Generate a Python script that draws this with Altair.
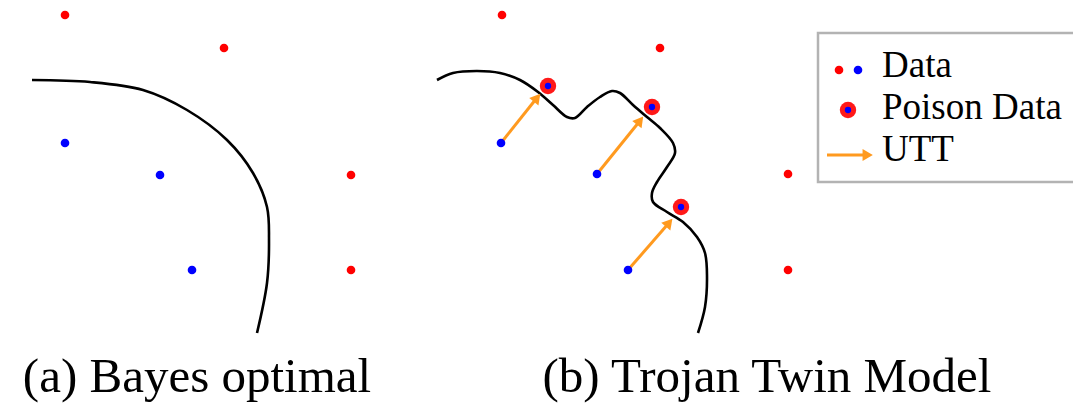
import altair as alt
import pandas as pd

# ---- data (in reference pixel units: x right, y down) ----
red_x = [65, 224, 351, 351, 502, 660, 788, 788]
red_y = [15, 48, 175, 270, 15, 48, 174, 270]
blue_x = [65, 160, 192, 501, 597, 628]
blue_y = [143, 175, 270, 143, 174, 270]
poison_x = [548, 652, 681]
poison_y = [86, 107, 207]
arrow_head_x = [536, 639, 668]
arrow_head_y = [99, 122, 224]

curve_a_x = [32, 90, 143, 187, 227, 253, 267, 269, 267, 257]
curve_a_y = [80, 82, 90, 110, 140, 173, 207, 240, 283, 333]
curve_b_x = [437, 453, 477, 500, 520, 538, 553, 567, 575, 587, 600, 612, 620, 633, 647,
             660, 673, 675, 667, 657, 652, 653, 667, 683, 697, 705, 707, 705, 698]
curve_b_y = [80, 73, 71, 73, 80, 92, 105, 117, 118, 107, 97, 91, 93, 105, 117,
             128, 143, 153, 167, 182, 193, 202, 212, 222, 237, 253, 277, 307, 333]

captions = ["(a) Bayes optimal", "(b) Trojan Twin Model"]
caption_x = [197, 767]
caption_y = [392, 392]

legend_labels = ["Data", "Poison Data", "UTT"]
legend_label_x = [882, 882, 882]
legend_label_y = [77, 119, 161]
legend_box = {"x": 818, "x2": 1090, "y": 33, "y2": 182}

RED = "#ff0000"
BLUE = "#0000ff"
ORANGE = "#ff9a1f"
FONT = "'Liberation Serif', 'Times New Roman', Times, 'DejaVu Serif', serif"

X0, X1, Y0, Y1 = 8, 1073, 8, 404
xs = alt.Scale(domain=[X0, X1], nice=False, zero=False)
ys = alt.Scale(domain=[Y1, Y0], nice=False, zero=False)


def X(f="x"):
    return alt.X(f"{f}:Q", scale=xs, axis=None)


def Y(f="y"):
    return alt.Y(f"{f}:Q", scale=ys, axis=None)


# curves
curve_df = pd.DataFrame(
    {"x": curve_a_x + curve_b_x,
     "y": curve_a_y + curve_b_y,
     "order": list(range(len(curve_a_x))) + list(range(len(curve_b_x))),
     "panel": ["a"] * len(curve_a_x) + ["b"] * len(curve_b_x)}
)
curves = alt.Chart(curve_df).mark_line(
    color="black", strokeWidth=2.6, interpolate="catmull-rom"
).encode(x=X(), y=Y(), order="order:Q", detail="panel:N")

# arrows (UTT)
arrow_rows = []
for i in range(3):
    arrow_rows.append({"x": blue_x[3 + i], "y": blue_y[3 + i], "id": i, "o": 0})
    arrow_rows.append({"x": arrow_head_x[i], "y": arrow_head_y[i], "id": i, "o": 1})
arrow_df = pd.DataFrame(arrow_rows)
arrow_lines = alt.Chart(arrow_df).mark_line(color=ORANGE, strokeWidth=3).encode(
    x=X(), y=Y(), detail="id:N", order="o:Q"
)
head_df = pd.DataFrame({"x": arrow_head_x, "y": arrow_head_y, "angle": [39, 38, 40]})
arrow_heads = alt.Chart(head_df).mark_point(
    shape="triangle", filled=True, color=ORANGE, opacity=1, size=140
).encode(x=X(), y=Y(), angle=alt.Angle("angle:Q", scale=None))

# data points
red_df = pd.DataFrame({"x": red_x, "y": red_y})
blue_df = pd.DataFrame({"x": blue_x, "y": blue_y})
reds = alt.Chart(red_df).mark_circle(color=RED, size=75, opacity=1).encode(x=X(), y=Y())
blues = alt.Chart(blue_df).mark_circle(color=BLUE, size=75, opacity=1).encode(x=X(), y=Y())

# poison points
poison_df = pd.DataFrame({"x": poison_x, "y": poison_y})
poison_outer = alt.Chart(poison_df).mark_circle(color=RED, size=270, opacity=0.9).encode(x=X(), y=Y())
poison_inner = alt.Chart(poison_df).mark_circle(color=BLUE, size=40, opacity=1).encode(x=X(), y=Y())

# captions
cap_df = pd.DataFrame({"x": caption_x, "y": caption_y, "t": captions})
caps = alt.Chart(cap_df).mark_text(
    font=FONT, fontSize=49, align="center", baseline="alphabetic", color="black"
).encode(x=X(), y=Y(), text="t:N")

# legend box
box_df = pd.DataFrame([legend_box])
box = alt.Chart(box_df).mark_rect(fill="white", stroke="#b3b3b3", strokeWidth=2.5).encode(
    x=X(), x2="x2:Q", y=Y(), y2="y2:Q"
)
leg_text_df = pd.DataFrame({"x": legend_label_x, "y": legend_label_y, "t": legend_labels})
leg_text = alt.Chart(leg_text_df).mark_text(
    font=FONT, fontSize=37, align="left", baseline="alphabetic", color="black"
).encode(x=X(), y=Y(), text="t:N")

leg_red = alt.Chart(pd.DataFrame({"x": [839], "y": [70]})).mark_circle(
    color=RED, size=75, opacity=1).encode(x=X(), y=Y())
leg_blue = alt.Chart(pd.DataFrame({"x": [858], "y": [70]})).mark_circle(
    color=BLUE, size=75, opacity=1).encode(x=X(), y=Y())
leg_pois_o = alt.Chart(pd.DataFrame({"x": [848], "y": [110]})).mark_circle(
    color=RED, size=270, opacity=0.9).encode(x=X(), y=Y())
leg_pois_i = alt.Chart(pd.DataFrame({"x": [848], "y": [110]})).mark_circle(
    color=BLUE, size=40, opacity=1).encode(x=X(), y=Y())
leg_arrow_line = alt.Chart(pd.DataFrame({"x": [827, 866], "y": [155, 155], "o": [0, 1]})).mark_line(
    color=ORANGE, strokeWidth=3).encode(x=X(), y=Y(), order="o:Q")
leg_arrow_head = alt.Chart(pd.DataFrame({"x": [866], "y": [155], "angle": [90]})).mark_point(
    shape="triangle", filled=True, color=ORANGE, opacity=1, size=140
).encode(x=X(), y=Y(), angle=alt.Angle("angle:Q", scale=None))

chart = alt.layer(
    curves, arrow_lines, arrow_heads, reds, blues, poison_outer, poison_inner, caps,
    box, leg_text, leg_red, leg_blue, leg_pois_o, leg_pois_i, leg_arrow_line, leg_arrow_head,
).properties(
    width=X1 - X0, height=Y1 - Y0, padding=0, background="white",
    autosize=alt.AutoSizeParams(type="none"),
).configure_view(stroke=None)

chart.save("out.html", embed_options={"renderer": "svg", "actions": False})
